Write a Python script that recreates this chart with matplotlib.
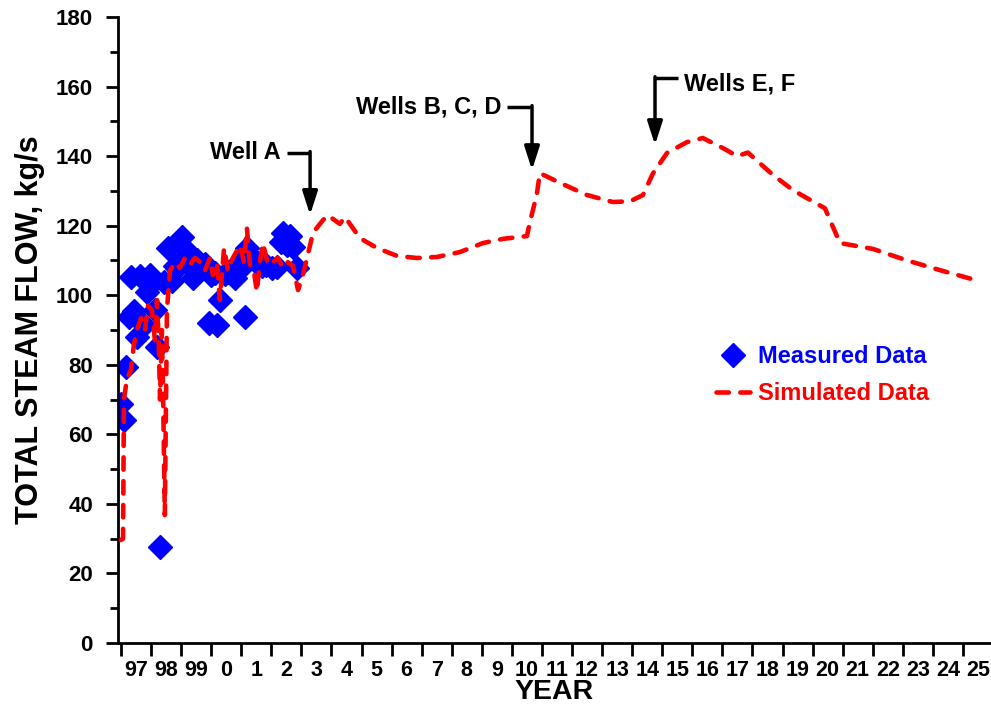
import numpy as np
import matplotlib
matplotlib.use("Agg")
import matplotlib.pyplot as plt

plt.rcParams['font.family'] = ['Liberation Sans', 'DejaVu Sans']
plt.rcParams['font.weight'] = 'bold'

# x axis is years since the start of 1997 (0 = 1997); labels sit in the middle of each year
year_labels = ["97", "98", "99", "0", "1", "2", "3", "4", "5", "6", "7", "8", "9", "10",
               "11", "12", "13", "14", "15", "16", "17", "18", "19", "20", "21", "22",
               "23", "24", "25"]

meas_x = [0.00, 0.10, 0.17, 0.27, 0.33, 0.43, 0.53, 0.63, 0.76, 0.86, 0.96, 1.03, 1.13,
          1.20, 1.30, 1.43, 1.56, 1.70, 1.80, 1.86, 2.03, 2.13, 2.23, 2.33, 2.39, 2.53,
          2.66, 2.79, 2.93, 2.99, 3.13, 3.19, 3.29, 3.46, 3.56, 3.69, 3.79, 3.89, 4.02,
          4.12, 4.19, 4.29, 4.42, 4.56, 4.69, 4.82, 5.02, 5.19, 5.32, 5.39, 5.52, 5.62,
          5.72, 5.85]
meas_y = [68.7, 64.1, 79.4, 93.7, 105.2, 95.5, 88.0, 105.5, 91.4, 101.0, 105.8, 103.5,
          95.7, 85.1, 27.6, 103.8, 113.6, 104.0, 108.5, 107.8, 116.7, 111.0, 112.4, 108.0,
          105.0, 110.0, 108.7, 109.0, 92.0, 105.8, 106.4, 91.4, 98.6, 106.0, 106.7, 107.5,
          105.0, 109.0, 108.1, 93.7, 113.6, 111.0, 110.0, 109.3, 108.5, 108.8, 107.8,
          108.0, 115.3, 117.9, 114.4, 117.0, 114.0, 107.8]

sim_x = [0.00, 0.07, 0.10, 0.20, 0.33, 0.43, 0.53, 0.67, 0.80, 0.90, 1.03, 1.13, 1.20,
         1.26, 1.30, 1.36, 1.40, 1.46, 1.53, 1.63, 1.80, 1.96, 2.13, 2.29, 2.46, 2.63,
         2.79, 2.96, 3.06, 3.19, 3.29, 3.43, 3.56, 3.72, 3.96, 4.09, 4.19, 4.29, 4.42,
         4.52, 4.62, 4.72, 4.89, 5.05, 5.22, 5.39, 5.55, 5.72, 5.89, 6.05, 6.39, 6.72,
         6.88, 7.28, 7.45, 7.95, 8.51, 9.18, 9.84, 10.51, 11.27, 12.04, 12.70, 13.50,
         13.60, 13.83, 13.93, 14.60, 15.50, 16.36, 16.93, 17.36, 17.69, 18.16, 18.82,
         19.35, 20.02, 20.49, 20.85, 21.68, 22.35, 23.41, 23.91, 25.01, 26.14, 27.24,
         28.40]
sim_y = [29.6, 30.0, 70.0, 76.0, 78.5, 85.7, 90.0, 93.4, 90.0, 97.0, 95.7, 87.0, 98.6,
         85.7, 70.0, 90.0, 72.7, 36.8, 95.7, 107.0, 109.5, 107.8, 110.7, 108.7, 110.7,
         109.5, 107.0, 110.7, 105.8, 109.5, 98.6, 113.6, 107.0, 110.7, 114.4, 109.5,
         119.3, 108.7, 107.0, 101.0, 109.5, 115.0, 108.7, 109.5, 110.7, 107.8, 109.5,
         108.4, 101.5, 105.8, 118.0, 121.6, 123.0, 120.5, 122.5, 116.4, 113.6, 111.3,
         110.7, 111.0, 112.4, 115.0, 116.2, 117.0, 121.0, 129.0, 135.1, 132.3, 128.8,
         126.8, 127.0, 128.8, 135.0, 140.9, 144.0, 145.2, 142.3, 140.0, 141.0, 134.6,
         130.2, 125.0, 115.0, 113.3, 110.0, 107.2, 104.4]

fig = plt.figure(figsize=(9.91, 7.04), dpi=100)
ax = fig.add_axes([0.119, 0.0866, 0.880, 0.8893])

ax.plot(meas_x, meas_y, linestyle="none", marker="D", markersize=12,
        color="#0000FF", label="Measured Data", zorder=2)
ax.plot(sim_x, sim_y, color="#FF0000", linewidth=3.3, dashes=(2.7, 2.5),
        dash_capstyle="round", label="Simulated Data", zorder=3)

ax.set_xlim(-0.1, 28.9)
ax.set_ylim(0, 180)
ax.set_xticks(np.arange(len(year_labels)))
ax.set_xticklabels([])
ax.set_xticks(np.arange(len(year_labels)) + 0.5, minor=True)
ax.set_xticklabels(year_labels, minor=True, fontsize=15.5, fontweight="bold")
ax.tick_params(axis="x", which="major", width=2, length=9)
ax.tick_params(axis="x", which="minor", length=0, pad=12)

ax.set_yticks(np.arange(0, 181, 20))
ax.set_yticks(np.arange(0, 181, 10), minor=True)
ax.tick_params(axis="y", labelsize=16, width=2, length=9, pad=9)
ax.tick_params(axis="y", which="minor", width=2, length=6)
for lab in ax.get_yticklabels():
    lab.set_fontweight("bold")

ax.spines["top"].set_visible(False)
ax.spines["right"].set_visible(False)
ax.spines["left"].set_linewidth(2)
ax.spines["bottom"].set_linewidth(2)

ax.set_xlabel("YEAR", fontsize=20.5, fontweight="bold", labelpad=-1.5)
ax.set_ylabel("TOTAL STEAM FLOW, kg/s", fontsize=22, fontweight="bold", labelpad=8)

# well annotations: text, elbow line, arrow down to the curve
wells = [("Well A", 5.52, 6.29, 140.9, 123.1, "right"),
         ("Wells B, C, D", 12.84, 13.67, 154.1, 136.0, "right"),
         ("Wells E, F", 18.52, 17.76, 162.4, 143.2, "left")]
for name, x_text, x_arrow, y_top, y_tip, ha in wells:
    ax.plot([x_text, x_arrow], [y_top, y_top], color="black", linewidth=2.5,
            solid_capstyle="butt")
    ax.annotate("", xy=(x_arrow, y_tip), xytext=(x_arrow, y_top + 0.4),
                arrowprops=dict(arrowstyle="-|>,head_length=1.4,head_width=0.45",
                                color="black", lw=2.5, shrinkA=0, shrinkB=0))
    if ha == "right":
        ax.text(x_text - 0.2, y_top, name, ha="right", va="center",
                fontsize=17, fontweight="bold")
    else:
        ax.text(x_text + 0.22, y_top - 1.8, name, ha="left", va="center",
                fontsize=17, fontweight="bold")

leg = ax.legend(loc="center left", bbox_to_anchor=(0.662, 0.428), frameon=False,
                handlelength=1.4, handletextpad=0.35, labelspacing=0.6,
                prop={"weight": "bold", "size": 17})
for txt, col in zip(leg.get_texts(), ["#0000FF", "#FF0000"]):
    txt.set_color(col)

fig.savefig("out.png", dpi=100)
